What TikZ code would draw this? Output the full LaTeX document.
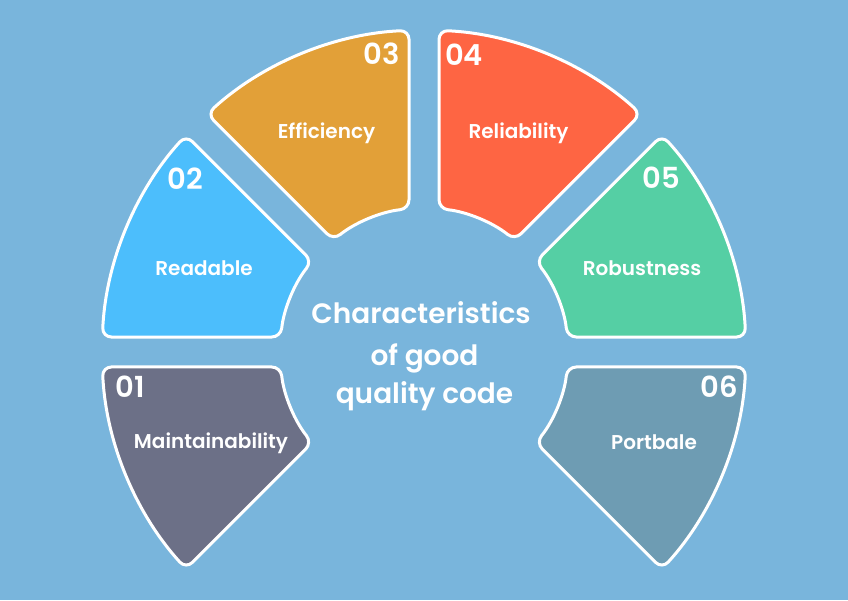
\documentclass[tikz,border=0pt]{standalone}
\usepackage{fontspec}
\setmainfont{Poppins}
\newfontfamily\popsb{Poppins SemiBold}
\usetikzlibrary{calc}
\definecolor{bg}{HTML}{79B5DC}
\definecolor{cA}{HTML}{6C7087}
\definecolor{cB}{HTML}{4CBEFC}
\definecolor{cC}{HTML}{E2A038}
\definecolor{cD}{HTML}{FE6543}
\definecolor{cE}{HTML}{55CFA4}
\definecolor{cF}{HTML}{6E9CB3}
\def\Ro{322}
\def\ri{144}
\def\dO{2.67}
\def\dI{5.98}
\newcommand\mysector[3]{%
  \path[sec, fill=#3] ($(C)+({#1+\dO}:\Ro)$)
    arc[start angle={#1+\dO}, end angle={#2-\dO}, radius=\Ro]
    -- ($(C)+({#2-\dI}:\ri)$)
    arc[start angle={#2-\dI}, end angle={#1+\dI}, radius=\ri]
    -- cycle;}
\tikzset{
  sec/.style={draw=white, line width=3pt, rounded corners=9pt},
  lbl/.style={text=white, font=\popsb\fontsize{20}{24}\selectfont, anchor=base, inner sep=0pt},
  num/.style={text=white, font=\popsb\fontsize{29}{34}\selectfont, anchor=base, inner sep=0pt},
  ttl/.style={text=white, font=\popsb\fontsize{28}{32}\selectfont, anchor=base, inner sep=0pt}
}
\begin{document}
\begin{tikzpicture}[x=1pt,y=1pt]
\fill[bg] (0,0) rectangle (848,600);
\useasboundingbox (0,0) rectangle (848,600);
\coordinate (C) at (424,248);
\mysector{180}{225}{cA}
\mysector{135}{180}{cB}
\mysector{90}{135}{cC}
\mysector{45}{90}{cD}
\mysector{0}{45}{cE}
\mysector{-45}{0}{cF}
\node[num] (n1) at (130,202) {01};
\node[lbl] (l1) at (211,151.5) {Maintainability};
\node[num] (n2) at (185,410) {02};
\node[lbl] (l2) at (204,324.5) {Readable};
\node[num] (n3) at (381.5,535) {03};
\node[lbl] (l3) at (326.5,461.5) {Efficiency};
\node[num] (n4) at (464,534) {04};
\node[lbl] (l4) at (518.5,461.5) {Reliability};
\node[num] (n5) at (661,411) {05};
\node[lbl] (l5) at (642,324.5) {Robustness};
\node[num] (n6) at (719.5,202) {06};
\node[lbl] (l6) at (654,150.5) {Portbale};
\node[ttl] (t1) at (421,276.5) {Characteristics};
\node[ttl] (t2) at (424.5,234.5) {of good};
\node[ttl] (t3) at (424.5,196.5) {quality code};
\end{tikzpicture}
\end{document}
